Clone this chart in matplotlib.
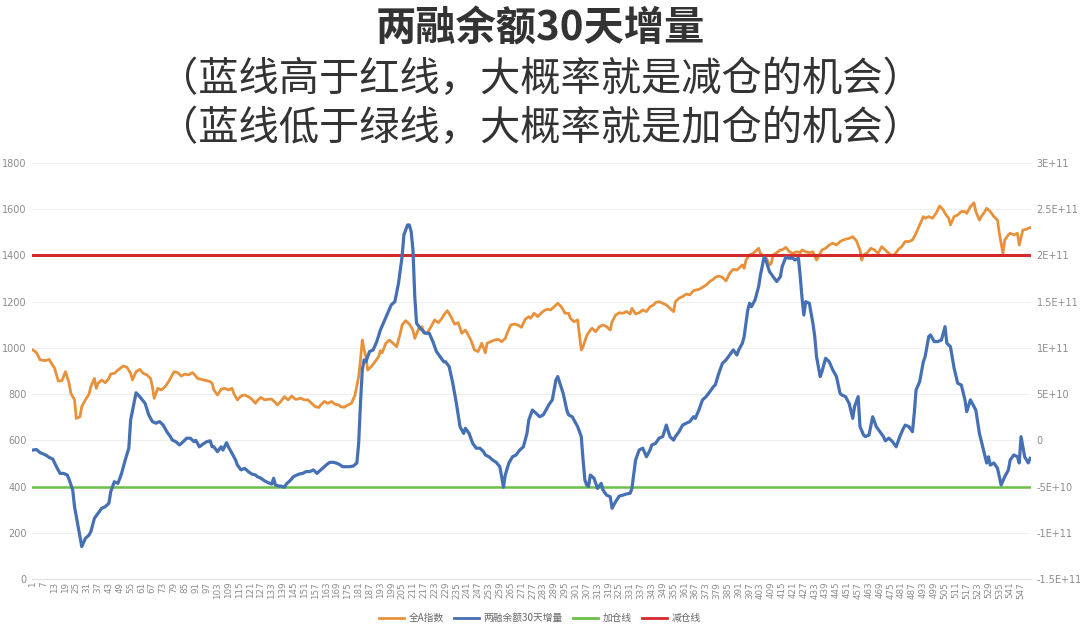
import matplotlib
matplotlib.use('Agg')
import matplotlib.pyplot as plt
from matplotlib.lines import Line2D

plt.rcParams['font.family'] = ['Noto Sans CJK SC', 'DejaVu Sans']

# ---------------- data ----------------
orange_day = [1, 3, 5, 8, 10, 11, 13, 15, 17, 19, 21, 22, 24, 25, 27, 28, 30, 32, 33, 35, 36, 37, 39, 41, 43, 44, 46, 48, 51, 53,
              55, 56, 58, 60, 62, 64, 66, 67, 68, 70, 72, 74, 76, 78, 79, 81, 83, 85, 87, 89, 90, 92, 94, 97, 99, 100, 101, 103, 105, 107,
              109, 111, 112, 114, 116, 118, 120, 122, 124, 125, 127, 129, 131, 133, 135, 136, 138, 140, 142, 144, 146, 147, 149, 151, 153, 155, 157, 159, 160, 162,
              164, 166, 168, 170, 171, 173, 175, 177, 179, 181, 182, 183, 184, 185, 186, 187, 188, 190, 192, 193, 194, 196, 198, 200, 202, 204, 205, 207, 209, 211,
              212, 214, 216, 217, 219, 221, 223, 225, 227, 228, 230, 232, 234, 236, 238, 240, 241, 243, 245, 247, 249, 251, 252, 254, 256, 258, 260, 262, 263, 265,
              267, 269, 271, 273, 275, 276, 278, 280, 282, 284, 286, 287, 289, 291, 293, 295, 297, 298, 300, 302, 304, 305, 307, 309, 310, 312, 314, 316, 318, 320,
              321, 323, 325, 327, 329, 331, 332, 334, 336, 338, 340, 342, 344, 345, 347, 349, 351, 353, 355, 356, 358, 360, 362, 364, 366, 367, 369, 371, 373, 375,
              377, 378, 380, 382, 384, 386, 388, 390, 391, 393, 394, 395, 397, 399, 401, 402, 403, 404, 406, 408, 409, 410, 412, 414, 415, 417, 419, 421, 423, 425,
              426, 428, 430, 432, 434, 436, 437, 439, 441, 443, 445, 447, 448, 450, 452, 454, 456, 458, 459, 460, 462, 464, 466, 468, 470, 471, 473, 475, 477, 479,
              481, 483, 485, 487, 489, 491, 493, 494, 496, 498, 500, 502, 504, 505, 507, 508, 510, 512, 514, 516, 517, 519, 521, 522, 524, 525, 527, 528, 530, 532,
              534, 535, 537, 538, 540, 541, 543, 545, 546, 548, 550, 551, 552]
orange_val = [991, 979, 948, 945, 950, 936, 912, 857, 858, 897, 847, 803, 775, 695, 702, 746, 775, 800, 832, 868, 825, 847, 861, 849, 868, 887, 890, 904, 922, 916,
              890, 861, 897, 907, 890, 883, 868, 832, 782, 825, 818, 832, 854, 883, 897, 893, 878, 887, 883, 893, 887, 868, 864, 858, 854, 847, 818, 796, 821, 825,
              818, 825, 803, 775, 792, 796, 789, 778, 760, 772, 786, 775, 778, 778, 763, 753, 768, 789, 775, 792, 778, 778, 782, 775, 775, 760, 746, 742, 753, 768,
              760, 768, 756, 753, 746, 743, 753, 760, 796, 876, 948, 1034, 991, 962, 904, 912, 919, 940, 962, 988, 979, 1020, 1034, 1020, 1005, 1063, 1099, 1118, 1103, 1077,
              1041, 1080, 1092, 1063, 1066, 1092, 1121, 1109, 1128, 1142, 1161, 1135, 1103, 1109, 1063, 1077, 1063, 1034, 991, 984, 1020, 979, 1020, 1027, 1034, 1037, 1027, 1041, 1063, 1099,
              1103, 1099, 1089, 1124, 1135, 1128, 1150, 1135, 1152, 1164, 1167, 1164, 1178, 1193, 1178, 1150, 1150, 1128, 1113, 1121, 991, 1005, 1053, 1077, 1085, 1070, 1092, 1099, 1092, 1077,
              1113, 1142, 1152, 1150, 1157, 1147, 1171, 1147, 1152, 1164, 1157, 1178, 1186, 1196, 1200, 1193, 1186, 1171, 1157, 1200, 1215, 1222, 1233, 1229, 1248, 1250, 1253, 1262, 1272, 1287,
              1297, 1305, 1311, 1305, 1290, 1323, 1340, 1337, 1344, 1359, 1344, 1380, 1402, 1409, 1424, 1431, 1409, 1402, 1392, 1359, 1366, 1402, 1412, 1424, 1424, 1435, 1416, 1409, 1416, 1412,
              1424, 1416, 1412, 1416, 1380, 1409, 1424, 1431, 1445, 1453, 1445, 1460, 1464, 1470, 1474, 1481, 1464, 1424, 1380, 1402, 1412, 1431, 1424, 1409, 1438, 1431, 1416, 1402, 1402, 1424,
              1438, 1460, 1460, 1467, 1496, 1532, 1568, 1561, 1568, 1561, 1582, 1614, 1597, 1582, 1561, 1532, 1568, 1575, 1590, 1590, 1582, 1611, 1628, 1590, 1553, 1568, 1590, 1604, 1590, 1568,
              1553, 1496, 1409, 1467, 1489, 1496, 1489, 1496, 1445, 1510, 1513, 1518, 1520]

blue_day = [1, 3, 5, 8, 10, 12, 14, 16, 18, 20, 21, 23, 24, 26, 28, 30, 32, 33, 35, 37, 39, 41, 43, 44, 46, 48, 50, 52, 54, 55,
            58, 60, 63, 65, 67, 69, 71, 73, 75, 77, 78, 80, 82, 84, 86, 88, 90, 91, 93, 95, 97, 99, 100, 101, 103, 105, 106, 108, 109, 111,
            113, 114, 116, 118, 120, 122, 124, 125, 127, 129, 131, 133, 134, 135, 137, 138, 140, 141, 143, 145, 147, 148, 150, 152, 154, 156, 158, 159, 161, 163,
            165, 167, 169, 171, 172, 174, 176, 178, 180, 181, 182, 183, 184, 185, 187, 189, 191, 193, 195, 197, 199, 201, 203, 205, 206, 208, 209, 210, 211, 212,
            213, 215, 217, 218, 220, 222, 224, 226, 228, 229, 231, 233, 235, 237, 239, 240, 242, 244, 246, 248, 250, 251, 253, 255, 257, 259, 260, 261, 262, 264,
            266, 268, 270, 272, 274, 275, 277, 279, 281, 283, 285, 286, 288, 290, 291, 294, 296, 297, 299, 301, 302, 304, 305, 306, 307, 308, 309, 311, 312, 313,
            315, 316, 318, 320, 321, 323, 325, 327, 329, 331, 332, 334, 336, 338, 340, 342, 343, 345, 347, 349, 351, 353, 355, 356, 358, 360, 362, 364, 366, 367,
            369, 371, 373, 375, 377, 378, 380, 382, 384, 386, 388, 390, 391, 393, 394, 396, 397, 398, 400, 402, 403, 405, 406, 408, 410, 412, 414, 415, 417, 419,
            421, 422, 424, 425, 426, 427, 428, 430, 432, 433, 434, 436, 437, 439, 441, 443, 445, 447, 448, 450, 452, 454, 455, 457, 458, 460, 461, 463, 465, 467,
            469, 471, 472, 474, 476, 478, 480, 482, 483, 485, 487, 488, 489, 491, 493, 494, 496, 497, 499, 501, 503, 505, 506, 508, 510, 512, 514, 516, 517, 519,
            521, 522, 524, 526, 528, 529, 530, 532, 534, 536, 538, 540, 541, 543, 545, 546, 547, 549, 551, 552]
# blue series in units of 1E+10
blue_e10 = [-1.05, -1.0, -1.33, -1.58, -1.85, -2.03, -2.85, -3.58, -3.58, -3.75, -4.23, -5.38, -7.18, -9.35, -11.5, -10.6, -10.25, -9.88, -8.43, -7.9,
            -7.35, -7.18, -6.8, -5.55, -4.48, -4.65, -3.58, -2.13, -0.85, 2.2,
            5.15, 4.73, 4.0, 2.75, 2.03, 1.85, 2.03, 1.65, 0.93, 0.4, 0.03, -0.15, -0.5, -0.15, 0.23, 0.23, -0.15, 0.0, -0.7, -0.4,
            -0.15, -0.05, -0.7, -0.7, -1.23, -0.7, -1.05, -0.25, -0.7, -1.4,
            -2.13, -2.68, -3.2, -3.03, -3.38, -3.65, -3.75, -3.93, -4.1, -4.38, -4.58, -4.73, -4.1, -4.83, -4.95, -4.95, -5.08, -4.73, -4.38, -3.93,
            -3.75, -3.65, -3.58, -3.38, -3.38, -3.2, -3.58, -3.38, -3.03, -2.68,
            -2.38, -2.38, -2.48, -2.68, -2.85, -2.85, -2.85, -2.78, -2.45, -0.33, 4.0, 7.6, 8.7, 8.5, 9.6, 9.78, 10.68, 11.93, 12.83, 13.75,
            14.65, 15.0, 16.98, 19.88, 22.23, 23.3, 23.3, 22.58, 20.6, 15.55,
            12.65, 12.13, 11.75, 11.58, 11.58, 10.68, 9.6, 9.05, 8.5, 8.5, 7.98, 6.18, 4.0, 1.48, 0.75, 1.3, 0.75, -0.33, -0.85, -0.85,
            -1.23, -1.58, -1.78, -2.13, -2.38, -2.85, -3.93, -5.08, -3.75, -2.45,
            -1.78, -1.58, -1.05, -0.7, 0.75, 2.2, 3.28, 2.93, 2.55, 2.75, 3.45, 3.83, 4.38, 6.53, 6.9, 5.08, 3.28, 2.75, 2.55, 1.85,
            1.48, 0.4, -2.13, -4.3, -4.83, -5.0, -3.75, -4.1, -4.65, -5.2,
            -4.65, -5.38, -5.93, -6.1, -7.35, -6.63, -6.03, -5.93, -5.8, -5.73, -5.2, -2.13, -1.05, -0.85, -1.78, -1.05, -0.5, -0.33, 0.23, 0.4,
            1.65, 0.4, 0.03, 0.4, 0.93, 1.65, 1.85, 2.03, 2.55, 2.38,
            3.28, 4.38, 4.73, 5.25, 5.8, 5.98, 7.25, 8.33, 8.7, 9.23, 9.78, 9.23, 9.78, 10.5, 11.23, 14.1, 14.83, 14.45, 15.18, 16.63,
            17.88, 19.8, 19.5, 18.25, 17.7, 17.18, 17.7, 18.78, 19.8, 19.7,
            19.7, 19.5, 19.7, 17.7, 15.38, 13.55, 15.0, 14.83, 12.65, 11.23, 9.05, 6.9, 7.43, 8.88, 8.5, 7.6, 6.9, 5.08, 4.9, 4.73,
            4.0, 2.38, 3.65, 4.73, 1.48, 0.58, 0.4, 0.58, 2.55, 1.48,
            0.93, 0.4, -0.05, 0.23, -0.15, -0.7, 0.4, 1.3, 1.65, 1.48, 0.93, 2.93, 5.45, 6.35, 8.5, 9.05, 11.23, 11.4, 10.68, 10.68,
            10.85, 12.3, 10.5, 10.13, 7.8, 6.18, 5.98, 4.38, 3.1, 4.38,
            3.65, 3.28, 0.75, -0.85, -2.45, -1.78, -2.68, -2.45, -3.03, -4.83, -3.93, -3.2, -2.13, -1.58, -1.78, -2.45, 0.4, -1.78, -2.45, -1.95]

add_level = 400        # 加仓线 (left axis)
cut_level = 1400       # 减仓线 (left axis)
n_days = 552

left_ticks = [0, 200, 400, 600, 800, 1000, 1200, 1400, 1600, 1800]
right_ticks = [-1.5e11, -1e11, -5e10, 0, 5e10, 1e11, 1.5e11, 2e11, 2.5e11, 3e11]
right_labels = ['-1.5E+11', '-1E+11', '-5E+10', '0', '5E+10', '1E+11', '1.5E+11', '2E+11', '2.5E+11', '3E+11']
x_ticks = list(range(1, 548, 6))

legend_labels = ['全A指数', '两融余额30天增量', '加仓线', '减仓线']
title_lines = ['两融余额30天增量',
               '（蓝线高于红线，大概率就是减仓的机会）',
               '（蓝线低于绿线，大概率就是加仓的机会）']

# ---------------- styles ----------------
c_orange = '#E8913A'
c_blue = '#4670B4'
c_green = '#6CC04A'
c_red = '#D42A2A'
c_tick = '#8C8C8C'

fig = plt.figure(figsize=(10.8, 6.28), dpi=100)
fig.patch.set_facecolor('white')
ax = fig.add_axes([32 / 1080, 1 - 579 / 628, 999 / 1080, 416 / 628])
ax2 = ax.twinx()

ax.plot(orange_day, orange_val, color=c_orange, lw=2.0, solid_joinstyle='round', zorder=3)
ax.axhline(add_level, color=c_green, lw=1.8, zorder=4)
ax.axhline(cut_level, color=c_red, lw=2.2, zorder=4)
ax2.plot(blue_day, [v * 1e10 for v in blue_e10], color=c_blue, lw=2.3, solid_joinstyle='round', zorder=3)

ax.set_xlim(0.5, n_days + 0.5)
ax.set_ylim(0, 1800)
ax2.set_ylim(-1.5e11, 3e11)

ax.set_yticks(left_ticks)
ax.set_yticklabels([str(t) for t in left_ticks])
ax2.set_yticks(right_ticks)
ax2.set_yticklabels(right_labels)
ax.set_xticks(x_ticks)
ax.set_xticklabels([str(t) for t in x_ticks], rotation=90)

ax.grid(axis='y', color='#EFEFEF', lw=0.8, zorder=0)
ax.set_axisbelow(True)
for a in (ax, ax2):
    for s in a.spines.values():
        s.set_visible(False)
ax.spines['bottom'].set_visible(True)
ax.spines['bottom'].set_color('#E0E0E0')

ax.tick_params(axis='y', length=0, labelsize=7, labelcolor=c_tick, pad=4)
ax2.tick_params(axis='y', length=0, labelsize=7, labelcolor=c_tick, pad=4)
ax.tick_params(axis='x', length=0, labelsize=6.3, labelcolor=c_tick, pad=2)
for lab in ax.get_xticklabels() + ax.get_yticklabels() + ax2.get_yticklabels():
    lab.set_family(['DejaVu Sans'])

handles = [Line2D([], [], color=c_orange, lw=2),
           Line2D([], [], color=c_blue, lw=2),
           Line2D([], [], color=c_green, lw=2),
           Line2D([], [], color=c_red, lw=2)]
fig.legend(handles, legend_labels, loc='center', bbox_to_anchor=(540 / 1080, 1 - 618 / 628),
           ncol=4, frameon=False, fontsize=7, labelcolor='#666666', handlelength=2.6,
           handletextpad=0.5, columnspacing=1.0)

fig.text(540 / 1080, 1 - 29 / 628, title_lines[0], ha='center', va='center',
         fontsize=29, fontweight='bold', color='#333333')
fig.text(540 / 1080, 1 - 79 / 628, title_lines[1], ha='center', va='center',
         fontsize=29, fontweight='medium', color='#333333')
fig.text(540 / 1080, 1 - 128 / 628, title_lines[2], ha='center', va='center',
         fontsize=29, fontweight='medium', color='#333333')

fig.savefig('out.png', dpi=100, facecolor='white')
